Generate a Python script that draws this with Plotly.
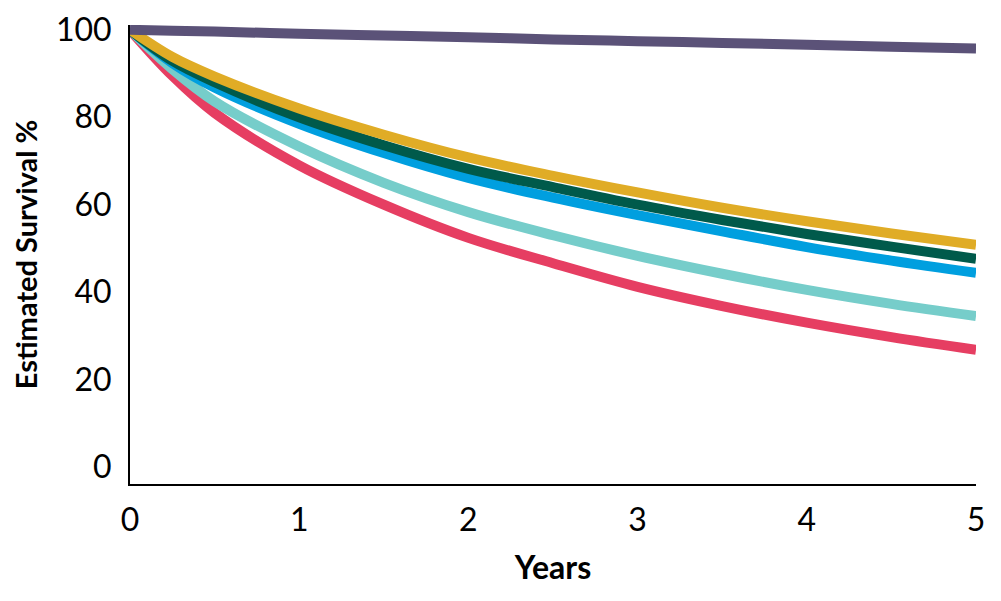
import plotly.graph_objects as go

years = [0, 0.25, 0.5, 1, 1.5, 2, 2.5, 3, 3.5, 4, 4.5, 5]
purple = [100, 99.8, 99.6, 99.1, 98.7, 98.3, 97.8, 97.4, 97.0, 96.6, 96.1, 95.7]
yellow = [100, 93.8, 89.3, 82.0, 76.0, 70.8, 66.6, 62.8, 59.3, 56.2, 53.4, 50.8]
dark_green = [100, 92.9, 88.0, 80.0, 73.6, 68.2, 64.0, 60.0, 56.5, 53.3, 50.4, 47.6]
blue = [100, 92.4, 86.8, 78.5, 71.8, 66.1, 61.6, 57.6, 53.9, 50.3, 47.2, 44.4]
teal = [100, 91.0, 83.6, 73.3, 65.0, 58.3, 53.0, 48.3, 44.2, 40.5, 37.3, 34.5]
red = [100, 89.5, 81.0, 69.0, 60.0, 52.4, 46.6, 41.2, 36.8, 33.0, 29.7, 26.8]

x_ticks = [0, 1, 2, 3, 4, 5]
y_ticks = [0, 20, 40, 60, 80, 100]

series = [
    ("Red", red, "#e63e62"),
    ("Teal", teal, "#76cdca"),
    ("Blue", blue, "#009fdf"),
    ("Dark green", dark_green, "#005a4b"),
    ("Yellow", yellow, "#e0ac26"),
    ("Purple", purple, "#5b5278"),
]

fig = go.Figure()
for name, vals, color in series:
    fig.add_trace(go.Scatter(
        x=years, y=vals, name=name, mode="lines",
        line=dict(color=color, width=10, shape="spline", smoothing=1.0),
        hoverinfo="skip",
    ))

font_family = "Lato, 'Open Sans', sans-serif"
fig.update_layout(
    width=1001, height=601,
    margin=dict(l=122, r=33, t=17, b=125, autoexpand=False),
    plot_bgcolor="white", paper_bgcolor="white",
    showlegend=False,
    font=dict(family=font_family, color="black", size=32),
    xaxis=dict(
        range=[0, 5], tickvals=x_ticks, showgrid=False, zeroline=False,
        showline=True, linecolor="black", linewidth=2,
        ticks="", ticklabelstandoff=7, automargin=False,
        ticklabeloverflow="allow",
        tickfont=dict(size=32, family=font_family),
        title=dict(text="<b>Years</b>", font=dict(size=32, family=font_family), standoff=19),
    ),
    yaxis=dict(
        range=[-3.9, 101.1], tickvals=y_ticks, showgrid=False, zeroline=False,
        showline=True, linecolor="black", linewidth=2,
        ticks="", ticklabelstandoff=10, automargin=False,
        ticklabeloverflow="allow",
        tickfont=dict(size=32, family=font_family),
        title=dict(text="<b>Estimated Survival %</b>", font=dict(size=29, family=font_family), standoff=16),
    ),
)

fig.write_html("out.html")
